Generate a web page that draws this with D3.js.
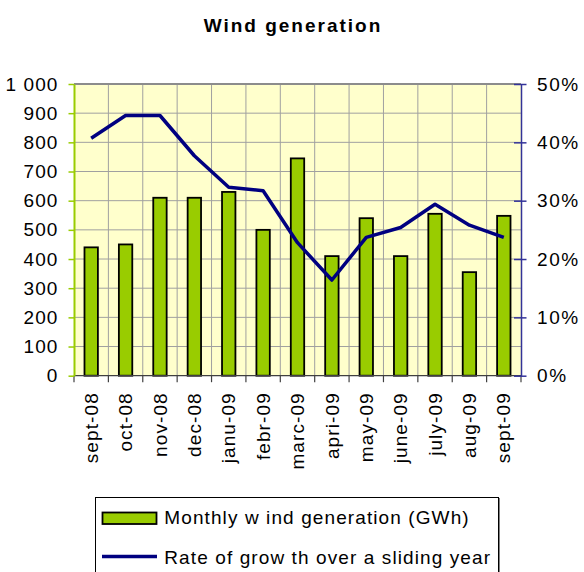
<!DOCTYPE html>
<html>
<head>
<meta charset="utf-8">
<script src="https://cdn.jsdelivr.net/npm/d3@7"></script>
<style>
  html, body { margin: 0; padding: 0; background: #ffffff; }
  svg { display: block; font-family: "Liberation Sans", Arial, sans-serif; }
</style>
</head>
<body>
<svg id="chart" width="584" height="572"></svg>
<script>
// ---- data ----
const categories = ["sept-08","oct-08","nov-08","dec-08","janu-09","febr-09","marc-09","apri-09","may-09","june-09","july-09","aug-09","sept-09"];
const generation = [440, 450, 610, 610, 630, 500, 745, 410, 540, 410, 555, 355, 548];
const growth = [40.7, 44.6, 44.6, 37.7, 32.3, 31.7, 22.8, 16.4, 23.7, 25.4, 29.4, 25.8, 23.7];
const leftTicks = [0, 100, 200, 300, 400, 500, 600, 700, 800, 900, 1000];
const leftTickLabels = ["0", "100", "200", "300", "400", "500", "600", "700", "800", "900", "1 000"];
const rightTicks = [0, 10, 20, 30, 40, 50];
const rightTickLabels = ["0%", "10%", "20%", "30%", "40%", "50%"];
const titleText = "Wind generation";
const legendLabels = ["Monthly w ind generation (GWh)", "Rate of grow th over a sliding year"];

// ---- layout ----
const svg = d3.select("#chart");
const plot = { left: 74, right: 521, top: 84, bottom: 375.7 };
const FS = 19, LS = 1.1;

const x = d3.scaleBand().domain(categories).range([plot.left, plot.right]).padding(0);
const yL = d3.scaleLinear().domain([0, 1000]).range([plot.bottom, plot.top]);
const yR = d3.scaleLinear().domain([0, 50]).range([plot.bottom, plot.top]);

// title
svg.append("text")
  .attr("x", 293).attr("y", 31.5)
  .attr("text-anchor", "middle")
  .style("font-size", FS + "px").style("font-weight", "bold")
  .style("letter-spacing", "2px")
  .attr("fill", "#000")
  .text(titleText);

// plot background
svg.append("rect")
  .attr("x", plot.left).attr("y", plot.top)
  .attr("width", plot.right - plot.left).attr("height", plot.bottom - plot.top)
  .attr("fill", "#ffffcc");

// horizontal gridlines
svg.append("g").selectAll("line").data(leftTicks.filter(t => t > 0 && t < 1000)).join("line")
  .attr("x1", plot.left).attr("x2", plot.right)
  .attr("y1", d => yL(d)).attr("y2", d => yL(d))
  .attr("stroke", "#a0a0a0").attr("stroke-width", 1);

// vertical gridlines at category boundaries
const boundaries = categories.map(c => x(c)).concat([plot.right]);
svg.append("g").selectAll("line").data(boundaries.slice(1, -1)).join("line")
  .attr("x1", d => d).attr("x2", d => d)
  .attr("y1", plot.top).attr("y2", plot.bottom)
  .attr("stroke", "#a0a0a0").attr("stroke-width", 1);

// top border
svg.append("line")
  .attr("x1", plot.left).attr("x2", plot.right)
  .attr("y1", plot.top).attr("y2", plot.top)
  .attr("stroke", "#8c8c8c").attr("stroke-width", 2);

// bars
const barW = 13.4;
svg.append("g").selectAll("rect").data(generation).join("rect")
  .attr("x", (d, i) => x(categories[i]) + (x.bandwidth() - barW) / 2)
  .attr("y", d => yL(d))
  .attr("width", barW)
  .attr("height", d => yL(0) - yL(d))
  .attr("fill", "#99cc00")
  .attr("stroke", "#000").attr("stroke-width", 1.8);

// line
const line = d3.line()
  .x((d, i) => x(categories[i]) + x.bandwidth() / 2)
  .y(d => yR(d));
svg.append("path").datum(growth)
  .attr("d", line)
  .attr("fill", "none")
  .attr("stroke", "#000080").attr("stroke-width", 3.5)
  .attr("stroke-linejoin", "round");

// bottom axis line + boundary ticks
svg.append("line")
  .attr("x1", plot.left).attr("x2", plot.right)
  .attr("y1", plot.bottom).attr("y2", plot.bottom)
  .attr("stroke", "#404040").attr("stroke-width", 1.2);
svg.append("g").selectAll("line").data(boundaries).join("line")
  .attr("x1", d => d).attr("x2", d => d)
  .attr("y1", plot.bottom).attr("y2", plot.bottom + 6.5)
  .attr("stroke", "#404040").attr("stroke-width", 1.2);

// bottom labels via axis
const xAxis = svg.append("g")
  .attr("transform", `translate(0,${plot.bottom})`)
  .call(d3.axisBottom(x).tickSize(0));
xAxis.select(".domain").remove();
xAxis.selectAll("text")
  .attr("x", -16.5).attr("y", 0).attr("dy", "0.35em")
  .attr("transform", "rotate(-90)")
  .style("text-anchor", "end")
  .style("font-size", FS + "px").style("letter-spacing", LS + "px")
  .style("font-family", '"Liberation Sans", Arial, sans-serif')
  .attr("fill", "#000");

// left axis
const leftAxis = svg.append("g")
  .attr("transform", `translate(${plot.left},0)`)
  .call(d3.axisLeft(yL).tickValues(leftTicks)
    .tickFormat((d, i) => leftTickLabels[i])
    .tickSize(5.5).tickSizeOuter(0).tickPadding(10));
leftAxis.select(".domain").attr("stroke", "#99cc00").attr("stroke-width", 2);
leftAxis.selectAll(".tick line").attr("stroke", "#99cc00").attr("stroke-width", 1.5);
leftAxis.selectAll("text")
  .style("font-size", FS + "px").style("letter-spacing", LS + "px")
  .style("font-family", '"Liberation Sans", Arial, sans-serif')
  .attr("fill", "#000");

// right axis
const rightAxis = svg.append("g")
  .attr("transform", `translate(${plot.right},0)`)
  .call(d3.axisRight(yR).tickValues(rightTicks)
    .tickFormat((d, i) => rightTickLabels[i])
    .tickSize(5.5).tickSizeOuter(0).tickPadding(10.5));
rightAxis.select(".domain").attr("stroke", "#333399").attr("stroke-width", 1.5);
rightAxis.selectAll(".tick line").attr("x1", -7).attr("stroke", "#333399").attr("stroke-width", 1.5);
rightAxis.selectAll("text")
  .style("font-size", FS + "px").style("letter-spacing", "1.6px")
  .style("font-family", '"Liberation Sans", Arial, sans-serif')
  .attr("fill", "#000");

// legend
const lg = svg.append("g");
lg.append("rect")
  .attr("x", 95.5).attr("y", 497.5).attr("width", 403).attr("height", 90)
  .attr("fill", "#fff").attr("stroke", "#000").attr("stroke-width", 1);
lg.append("line")
  .attr("x1", 499.5).attr("x2", 499.5).attr("y1", 498).attr("y2", 572)
  .attr("stroke", "#808080").attr("stroke-width", 1);
lg.append("rect")
  .attr("x", 102.5).attr("y", 512.5).attr("width", 54).attr("height", 11.5)
  .attr("fill", "#99cc00").attr("stroke", "#000").attr("stroke-width", 1.8);
lg.append("line")
  .attr("x1", 102).attr("x2", 157).attr("y1", 556.5).attr("y2", 556.5)
  .attr("stroke", "#000080").attr("stroke-width", 3.5);
lg.selectAll("text").data(legendLabels).join("text")
  .attr("x", 164.3)
  .attr("y", (d, i) => i === 0 ? 523.5 : 564)
  .style("font-size", FS + "px").style("letter-spacing", LS + "px")
  .attr("fill", "#000")
  .text(d => d);
</script>
</body>
</html>
